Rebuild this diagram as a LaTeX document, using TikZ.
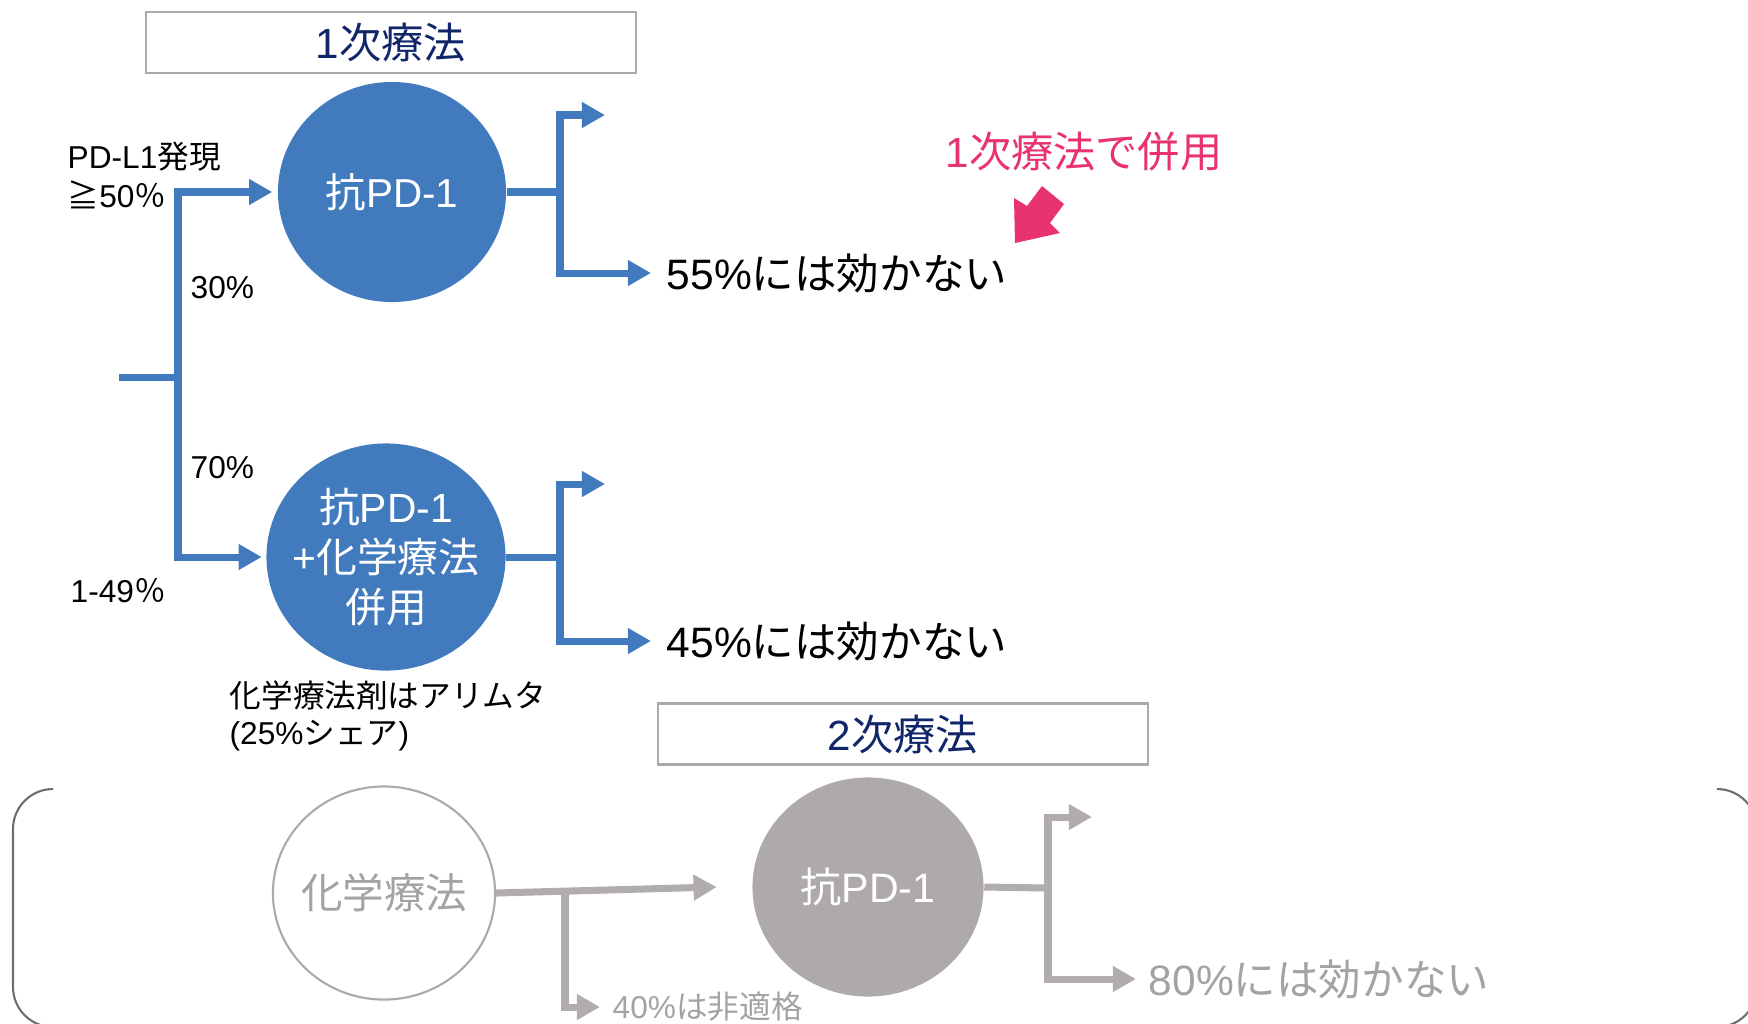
\documentclass[tikz,border=0pt]{standalone}
\usepackage{fontspec}
\setmainfont{Liberation Sans}
\newfontfamily\jp{Noto Sans CJK JP}
\usetikzlibrary{arrows.meta,shapes.geometric}
\definecolor{pdblue}{RGB}{65,123,190}
\definecolor{navy}{RGB}{16,38,105}
\definecolor{pinkc}{RGB}{232,51,112}
\definecolor{gfill}{RGB}{173,170,169}
\definecolor{gline}{RGB}{176,173,172}
\definecolor{gtext}{RGB}{165,163,162}
\definecolor{boxline}{RGB}{170,170,170}
\definecolor{brk}{RGB}{110,110,110}
\newcommand\J[1]{{\jp #1}}
\begin{document}
\begin{tikzpicture}[x=0.01cm,y=-0.01cm,
  tip/.style={-{Triangle[length=6.6pt,width=7pt]}},
  bl/.style={draw=pdblue,line width=2pt},
  gl/.style={draw=gline,line width=2pt},
  titlebox/.style={draw=boxline,line width=0.7pt,minimum width=4.9cm,minimum height=0.61cm,inner sep=0pt,text=navy,font=\fontsize{12}{14}\selectfont},
  circ/.style={ellipse,inner sep=0pt},
  ctext/.style={inner sep=0pt,align=center},
  lab/.style={anchor=west,inner sep=0pt},
  small/.style={font=\fontsize{9}{11}\selectfont},
  big/.style={font=\fontsize{12.1}{14}\selectfont}
]
\useasboundingbox (0,0) rectangle (1748,1023);

% titles
\node[titlebox] (title1) at (391,42.5) {1\J{次療法}};
\node[titlebox] (title2) at (903,734) {2\J{次療法}};

% circles
\node[circ,fill=pdblue,minimum width=2.28cm,minimum height=2.20cm] (c1) at (392,192) {};
\node[ctext,text=white,font=\fontsize{11.5}{13}\selectfont] (c1t) at (c1.center) {\J{抗}PD-1};
\node[circ,fill=pdblue,minimum width=2.39cm,minimum height=2.27cm] (c2) at (386,557) {};
\node[ctext,text=white,font=\fontsize{11.6}{14.2}\selectfont] (c2t) at (c2.center) {\J{抗}PD-1\\+\J{化学療法}\\\J{併用}};
\node[circ,draw=boxline,line width=0.6pt,fill=white,minimum width=2.22cm,minimum height=2.13cm] (c3) at (384,893) {};
\node[ctext,text=gtext,font=\fontsize{11.8}{13}\selectfont] (c3t) at (c3.center) {\J{化学療法}};
\node[circ,fill=gfill,minimum width=2.31cm,minimum height=2.19cm] (c4) at (868,887) {};
\node[ctext,text=white,font=\fontsize{11.7}{13}\selectfont] (c4t) at (c4.center) {\J{抗}PD-1};

% labels
\node[lab,small] (pdl1a) at (67,157) {PD-L1\J{発現}};
\node[lab,small] (pdl1b) at (67,195) {\J{≧}50\J{％}};
\node[lab,small] (p30) at (190,288) {30\%};
\node[lab,small] (p70) at (190,468) {70\%};
\node[lab,small] (p149) at (70,591) {1-49\J{％}};
\node[lab,small] (note1) at (229,695) {\J{化学療法剤はアリムタ}};
\node[lab,small] (note2) at (229,736) {(25\%\J{シェア})};
\node[lab,big] (r55) at (666,273) {55\%\J{には効かない}};
\node[lab,big] (r45) at (666,641) {45\%\J{には効かない}};
\node[lab,font=\fontsize{12}{14}\selectfont,text=pinkc] (pink) at (945,152) {1\J{次療法で併用}};
\node[lab,small,text=gtext] (n40) at (612,1007) {40\%\J{は非適格}};
\node[lab,big,text=gtext] (r80) at (1148,979) {80\%\J{には効かない}};

% blue tree
\coordinate (root) at (119,377);
\coordinate (rootj) at (178,377);
\draw[bl] (root) -- (rootj);
\draw[bl,tip,shorten >=0.05cm] (rootj) |- (c1.west);
\draw[bl,tip,shorten >=0.04cm] (rootj) |- (c2.west);

\coordinate (j1) at (560,192);
\coordinate (t1) at (605,115);
\draw[bl] (c1.east) -- (j1);
\draw[bl,tip] (j1) |- (t1);
\draw[bl,tip,shorten >=0.15cm] (j1) |- (r55.west);

\coordinate (j2) at (560,557);
\coordinate (t2) at (605,484);
\draw[bl] (c2.east) -- (j2);
\draw[bl,tip] (j2) |- (t2);
\draw[bl,tip,shorten >=0.15cm] (j2) |- (r45.west);

% pink arrow
\fill[pinkc] (1015,243) -- (1014,198) -- (1027,206) -- (1042,186) -- (1064,204) -- (1050,223) -- (1060,233) -- cycle;

% bracket
\draw[brk,line width=0.6pt,rounded corners=0.4cm] (52,789) -- (13,789) -- (13,1027) -- (52,1027);
\draw[brk,line width=0.6pt,rounded corners=0.4cm] (1717,789) -- (1757,789) -- (1757,1027) -- (1717,1027);

% gray tree
\draw[gl,tip] (c3.east) -- ([xshift=-0.35cm]c4.west);
\coordinate (j3) at (565,892);
\draw[gl,tip,shorten >=0.12cm] (j3) |- (n40.west);
\coordinate (j4) at (1048,888);
\coordinate (t4) at (1092,817);
\draw[gl] (c4.east) -- (j4);
\draw[gl,tip] (j4) |- (t4);
\draw[gl,tip,shorten >=0.12cm] (j4) |- (r80.west);
\end{tikzpicture}
\end{document}
